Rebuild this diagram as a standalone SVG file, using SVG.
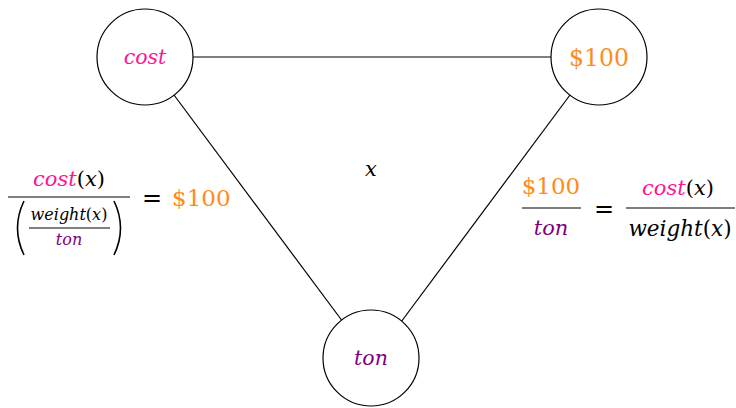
<svg xmlns="http://www.w3.org/2000/svg" width="736" height="408" viewBox="0 0 736 408">
<style>
.node{fill:#fff;stroke:#000;stroke-width:1.2}
.edge{stroke:#000;stroke-width:1.2;fill:none}
.it{font-style:italic}
.mag{fill:#ff1493}
.org{fill:#ff8c1a}
.pur{fill:#800080}
.blk{fill:#000}
.bar{stroke:#000;stroke-width:1.2}
</style>
<rect width="736" height="408" fill="#fff"/>
<g id="connectors">
<line class="edge" x1="193" y1="57" x2="551" y2="57"/>
<line class="edge" x1="174" y1="95" x2="343" y2="322"/>
<line class="edge" x1="570" y1="95" x2="401" y2="322"/>
</g>
<g font-family="'DejaVu Serif', serif">
<g id="node-cost">
<circle class="node" cx="145" cy="57" r="48"/>
<text x="145" y="64" text-anchor="middle" font-size="20.5" class="it mag">cost</text>
</g>
<g id="node-100">
<circle class="node" cx="599" cy="57" r="48"/>
<text x="599" y="66" text-anchor="middle" font-size="23.5" class="org">$100</text>
</g>
<g id="node-ton">
<circle class="node" cx="371" cy="358" r="48"/>
<text x="371" y="365" text-anchor="middle" font-size="20.5" class="it pur">ton</text>
</g>
<g id="label-x">
<text x="371" y="176" text-anchor="middle" font-size="21" class="it blk">x</text>
</g>
<g id="eq-left">
<text x="69" y="186" text-anchor="middle" font-size="21"><tspan class="it mag">cost</tspan><tspan class="blk">(</tspan><tspan class="it blk">x</tspan><tspan class="blk">)</tspan></text>
<line class="bar" x1="8" y1="197" x2="130" y2="197"/>
<text x="69" y="220" text-anchor="middle" font-size="16"><tspan class="it blk">weight</tspan><tspan class="blk">(</tspan><tspan class="it blk">x</tspan><tspan class="blk">)</tspan></text>
<line class="bar" x1="29" y1="228" x2="110" y2="228"/>
<text x="69" y="245" text-anchor="middle" font-size="16" class="it pur">ton</text>
<text x="152" y="206" text-anchor="middle" font-size="24" class="blk">=</text>
<text x="172" y="206" font-size="23" class="org">$100</text>
<path d="M24 201 Q11 228 24 255" fill="none" stroke="#000" stroke-width="1.6"/>
<path d="M114 201 Q127 228 114 255" fill="none" stroke="#000" stroke-width="1.6"/>
</g>
<g id="eq-right">
<text x="551" y="194" text-anchor="middle" font-size="23" class="org">$100</text>
<line class="bar" x1="522" y1="208" x2="581" y2="208"/>
<text x="551" y="235" text-anchor="middle" font-size="21" class="it pur">ton</text>
<text x="604" y="217" text-anchor="middle" font-size="24" class="blk">=</text>
<text x="678" y="195" text-anchor="middle" font-size="21"><tspan class="it mag">cost</tspan><tspan class="blk">(</tspan><tspan class="it blk">x</tspan><tspan class="blk">)</tspan></text>
<line class="bar" x1="626" y1="208" x2="735" y2="208"/>
<text x="680" y="236" text-anchor="middle" font-size="21.5"><tspan class="it blk">weight</tspan><tspan class="blk">(</tspan><tspan class="it blk">x</tspan><tspan class="blk">)</tspan></text>
</g>
</g>
</svg>
